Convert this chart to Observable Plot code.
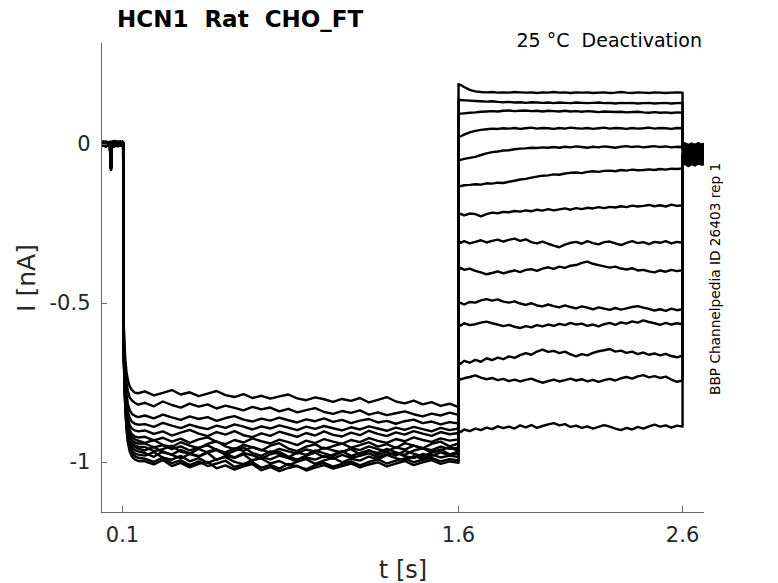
<!DOCTYPE html>
<html><head><meta charset="utf-8">
<script src="https://cdn.jsdelivr.net/npm/d3@7"></script>
<script src="https://cdn.jsdelivr.net/npm/@observablehq/plot@0.6"></script>
<style>html,body{margin:0;padding:0;background:#fff;} svg{display:block;}</style>
</head><body><div id="chart"></div>
<script>
// ---- texts ----
const titleText = "HCN1\u00a0\u00a0Rat\u00a0\u00a0CHO_FT";
const conditionText = "25 \u00b0C\u00a0\u00a0Deactivation";
const sideText = "BBP Channelpedia ID 26403 rep 1";
const xLabel = "t [s]";
const yLabel = "I\u00a0[nA]";

// ---- axes ----
const xDomain = [0.00625, 2.698];
const yDomain = [-1.157, 0.3176];
const xTicks = [0.1, 1.6, 2.6];
const xTickLabels = ["0.1", "1.6", "2.6"];
const yTicks = [-1, -0.5, 0];
const yTickLabels = ["-1", "-0.5", "0"];

// ---- sweeps ----
const sweepIds = [1,2,3,4,5,6,7,8,9,10,11,12,13,14];

// time grids (s)
const tHold = [0.006,0.015,0.025,0.035,0.044,0.047,0.049,0.052,0.06,0.07,0.08,0.09,0.1,0.103];
const tAct = [0.104,0.106,0.109,0.113,0.118,0.124,0.132,0.142,0.155,0.17,
  0.2,0.24,0.28,0.32,0.36,0.4,0.44,0.48,0.52,0.56,0.6,0.64,0.68,0.72,0.76,0.8,0.84,0.88,0.92,0.96,
  1.0,1.04,1.08,1.12,1.16,1.2,1.24,1.28,1.32,1.36,1.4,1.44,1.48,1.52,1.56,1.6];
const tTail = [1.6,1.61,1.625,1.65,1.675,1.7,1.725,1.75,1.775,1.8,1.825,1.85,1.875,1.9,1.925,1.95,1.975,
  2.0,2.025,2.05,2.075,2.1,2.125,2.15,2.175,2.2,2.225,2.25,2.275,2.3,2.325,2.35,2.375,2.4,2.425,2.45,2.475,
  2.5,2.525,2.55,2.575,2.6];
const tEnd = [2.6,2.61,2.625,2.64,2.655,2.67,2.685,2.698];

// holding segment current (nA), one row per sweep
const holdI = [
 [0.004,0.009,0.002,0.007,0.003,-0.066,-0.071,0.006,0.010,0.003,0.008,0.002,0.007,0.004],
 [0.001,-0.003,0.005,0.000,0.004,-0.070,-0.075,0.002,-0.002,0.004,0.000,0.005,0.001,0.003],
 [0.007,0.002,0.008,0.004,0.009,-0.063,-0.068,0.008,0.003,0.009,0.005,0.010,0.004,0.006],
 [-0.002,0.003,-0.004,0.001,-0.003,-0.072,-0.077,-0.001,0.003,-0.003,0.002,-0.004,0.001,-0.001],
 [0.005,0.000,0.006,0.002,0.007,-0.068,-0.073,0.004,0.008,0.001,0.006,0.003,0.008,0.005],
 [0.002,0.006,0.000,0.005,0.001,-0.065,-0.069,0.003,0.007,0.000,0.004,0.006,0.002,0.003],
 [-0.004,0.001,-0.006,-0.001,-0.005,-0.074,-0.078,-0.003,0.001,-0.005,0.000,-0.002,-0.006,-0.003],
 [0.008,0.004,0.010,0.005,0.009,-0.061,-0.066,0.009,0.005,0.011,0.006,0.009,0.004,0.007],
 [0.000,0.004,-0.002,0.003,-0.001,-0.069,-0.074,0.001,0.005,-0.002,0.003,0.000,0.004,0.001],
 [0.003,-0.001,0.004,0.008,0.002,-0.067,-0.072,0.006,0.001,0.005,0.009,0.003,0.006,0.002],
 [-0.006,-0.002,-0.007,-0.003,-0.006,-0.075,-0.080,-0.004,-0.008,-0.003,-0.006,-0.002,-0.005,-0.004],
 [0.006,0.010,0.004,0.008,0.005,-0.064,-0.068,0.007,0.011,0.004,0.009,0.006,0.010,0.007],
 [0.001,0.005,-0.001,0.004,0.000,-0.070,-0.074,0.002,-0.001,0.003,-0.002,0.004,0.000,0.002],
 [0.004,0.000,0.006,0.001,0.005,-0.066,-0.070,0.003,0.007,0.002,0.005,0.001,0.006,0.003]
];

// activation (prepulse) current (nA)
const actI = [
 [-0.50,-0.57,-0.63,-0.68,-0.715,-0.74,-0.76,-0.772,-0.78,-0.782,
  -0.776,-0.789,-0.781,-0.772,-0.786,-0.779,-0.791,-0.783,-0.775,-0.788,-0.794,-0.785,-0.797,-0.790,-0.799,-0.792,-0.786,-0.798,-0.804,-0.795,-0.801,-0.809,-0.800,-0.806,-0.797,-0.811,-0.803,-0.794,-0.808,-0.814,-0.805,-0.817,-0.810,-0.822,-0.815,-0.826],
 [-0.52,-0.59,-0.66,-0.71,-0.75,-0.775,-0.795,-0.805,-0.812,-0.818,
  -0.812,-0.823,-0.808,-0.819,-0.827,-0.815,-0.824,-0.817,-0.830,-0.821,-0.828,-0.836,-0.825,-0.833,-0.827,-0.839,-0.831,-0.842,-0.835,-0.829,-0.841,-0.847,-0.838,-0.844,-0.836,-0.849,-0.842,-0.851,-0.845,-0.839,-0.848,-0.855,-0.846,-0.852,-0.843,-0.850],
 [-0.53,-0.61,-0.68,-0.74,-0.785,-0.815,-0.835,-0.847,-0.853,-0.857,
  -0.852,-0.861,-0.849,-0.858,-0.866,-0.855,-0.863,-0.857,-0.869,-0.860,-0.854,-0.865,-0.871,-0.862,-0.868,-0.859,-0.867,-0.874,-0.864,-0.870,-0.861,-0.872,-0.866,-0.876,-0.868,-0.863,-0.874,-0.869,-0.878,-0.870,-0.865,-0.876,-0.871,-0.880,-0.873,-0.877],
 [-0.54,-0.62,-0.70,-0.76,-0.81,-0.84,-0.86,-0.872,-0.878,-0.881,
  -0.879,-0.888,-0.875,-0.884,-0.892,-0.881,-0.889,-0.895,-0.884,-0.891,-0.880,-0.887,-0.896,-0.886,-0.893,-0.883,-0.890,-0.898,-0.887,-0.894,-0.885,-0.892,-0.899,-0.889,-0.896,-0.886,-0.893,-0.900,-0.890,-0.897,-0.888,-0.895,-0.902,-0.891,-0.898,-0.893],
 [-0.54,-0.63,-0.71,-0.775,-0.825,-0.86,-0.882,-0.893,-0.899,-0.902,
  -0.899,-0.910,-0.902,-0.915,-0.906,-0.897,-0.909,-0.917,-0.904,-0.912,-0.901,-0.914,-0.920,-0.908,-0.916,-0.903,-0.911,-0.919,-0.907,-0.915,-0.902,-0.913,-0.918,-0.906,-0.914,-0.900,-0.910,-0.917,-0.905,-0.912,-0.901,-0.909,-0.916,-0.904,-0.911,-0.907],
 [-0.55,-0.64,-0.72,-0.79,-0.84,-0.875,-0.898,-0.911,-0.918,-0.921,
  -0.919,-0.930,-0.922,-0.934,-0.925,-0.938,-0.927,-0.921,-0.935,-0.942,-0.929,-0.937,-0.924,-0.933,-0.940,-0.928,-0.936,-0.945,-0.931,-0.939,-0.926,-0.934,-0.941,-0.929,-0.936,-0.923,-0.932,-0.938,-0.926,-0.933,-0.921,-0.929,-0.935,-0.924,-0.931,-0.927],
 [-0.55,-0.645,-0.73,-0.80,-0.85,-0.885,-0.908,-0.92,-0.927,-0.931,
  -0.938,-0.929,-0.945,-0.951,-0.936,-0.947,-0.955,-0.941,-0.933,-0.949,-0.958,-0.944,-0.952,-0.962,-0.947,-0.939,-0.956,-0.964,-0.950,-0.943,-0.957,-0.948,-0.940,-0.953,-0.945,-0.936,-0.950,-0.942,-0.954,-0.939,-0.947,-0.955,-0.941,-0.934,-0.949,-0.940],
 [-0.55,-0.65,-0.735,-0.805,-0.857,-0.893,-0.917,-0.93,-0.937,-0.94,
  -0.940,-0.952,-0.945,-0.958,-0.949,-0.962,-0.953,-0.946,-0.960,-0.968,-0.955,-0.963,-0.951,-0.960,-0.969,-0.957,-0.965,-0.972,-0.959,-0.966,-0.953,-0.962,-0.968,-0.955,-0.961,-0.949,-0.958,-0.964,-0.952,-0.959,-0.947,-0.955,-0.961,-0.950,-0.957,-0.953],
 [-0.56,-0.655,-0.74,-0.81,-0.863,-0.90,-0.925,-0.939,-0.946,-0.95,
  -0.951,-0.964,-0.958,-0.947,-0.966,-0.972,-0.957,-0.969,-0.961,-0.975,-0.963,-0.952,-0.970,-0.979,-0.965,-0.973,-0.984,-0.968,-0.976,-0.962,-0.971,-0.980,-0.966,-0.958,-0.974,-0.963,-0.970,-0.957,-0.968,-0.976,-0.962,-0.955,-0.969,-0.961,-0.952,-0.964],
 [-0.56,-0.66,-0.745,-0.815,-0.868,-0.905,-0.93,-0.944,-0.951,-0.956,
  -0.962,-0.951,-0.968,-0.975,-0.960,-0.971,-0.980,-0.966,-0.958,-0.973,-0.984,-0.970,-0.977,-0.988,-0.974,-0.966,-0.981,-0.991,-0.978,-0.969,-0.983,-0.975,-0.964,-0.979,-0.970,-0.961,-0.976,-0.967,-0.978,-0.963,-0.972,-0.981,-0.968,-0.959,-0.974,-0.966],
 [-0.56,-0.66,-0.75,-0.82,-0.875,-0.913,-0.939,-0.953,-0.961,-0.965,
  -0.970,-0.982,-0.965,-0.976,-0.987,-0.973,-0.981,-0.969,-0.992,-0.979,-0.985,-0.974,-0.995,-0.983,-0.990,-0.978,-0.986,-0.997,-0.984,-0.991,-0.980,-0.988,-0.976,-0.985,-0.979,-0.971,-0.983,-0.975,-0.969,-0.980,-0.986,-0.973,-0.979,-0.968,-0.977,-0.972],
 [-0.57,-0.67,-0.755,-0.828,-0.883,-0.922,-0.948,-0.963,-0.971,-0.975,
  -0.978,-0.967,-0.985,-0.991,-0.979,-0.996,-0.986,-1.001,-0.990,-0.983,-0.998,-1.005,-0.992,-0.987,-1.003,-0.995,-1.009,-0.997,-0.989,-1.004,-0.993,-0.985,-0.999,-0.988,-0.994,-0.981,-0.990,-0.976,-0.986,-0.993,-0.980,-0.988,-0.975,-0.984,-0.978,-0.983],
 [-0.57,-0.67,-0.76,-0.834,-0.89,-0.93,-0.957,-0.972,-0.98,-0.985,
  -0.988,-0.998,-0.984,-1.002,-0.993,-1.008,-0.996,-1.011,-1.003,-0.994,-1.014,-1.006,-0.999,-1.016,-1.007,-1.019,-1.004,-1.012,-1.021,-1.008,-1.001,-1.013,-1.004,-0.996,-1.009,-0.998,-0.990,-1.003,-0.994,-0.987,-0.999,-0.991,-0.985,-0.996,-0.989,-0.993],
 [-0.57,-0.675,-0.765,-0.84,-0.897,-0.937,-0.965,-0.981,-0.99,-0.995,
  -0.996,-1.006,-0.992,-1.011,-1.001,-1.015,-1.004,-0.998,-1.018,-1.009,-1.022,-1.012,-1.005,-1.024,-1.014,-1.027,-1.017,-1.010,-1.025,-1.016,-1.008,-1.019,-1.011,-1.003,-1.015,-1.006,-0.999,-1.012,-1.003,-0.995,-1.008,-0.999,-0.992,-1.004,-0.996,-1.001]
];

// tail (test pulse) current (nA)
const tailI = [
 [0.190,0.187,0.181,0.172,0.167,0.165,0.164,0.165,0.163,0.164,0.163,0.165,0.164,0.163,0.164,0.162,0.164,0.163,0.165,0.163,0.164,0.162,0.164,0.163,0.164,0.162,0.163,0.164,0.162,0.163,0.165,0.163,0.162,0.164,0.163,0.162,0.164,0.163,0.162,0.163,0.164,0.163],
 [0.141,0.140,0.139,0.138,0.137,0.136,0.135,0.136,0.134,0.133,0.134,0.132,0.133,0.131,0.133,0.132,0.131,0.132,0.130,0.132,0.131,0.130,0.132,0.131,0.130,0.131,0.132,0.130,0.131,0.129,0.131,0.130,0.131,0.129,0.130,0.131,0.129,0.130,0.131,0.129,0.130,0.131],
 [0.096,0.097,0.098,0.100,0.101,0.103,0.104,0.105,0.104,0.106,0.107,0.105,0.106,0.107,0.105,0.106,0.104,0.106,0.105,0.104,0.106,0.104,0.105,0.103,0.105,0.104,0.102,0.104,0.103,0.102,0.103,0.101,0.102,0.103,0.101,0.100,0.102,0.100,0.101,0.099,0.101,0.100],
 [0.023,0.026,0.031,0.038,0.043,0.046,0.048,0.050,0.049,0.051,0.050,0.052,0.049,0.051,0.053,0.050,0.052,0.051,0.049,0.052,0.050,0.053,0.051,0.050,0.052,0.049,0.051,0.053,0.050,0.052,0.051,0.049,0.052,0.050,0.051,0.053,0.050,0.052,0.051,0.049,0.052,0.051],
 [-0.050,-0.048,-0.045,-0.042,-0.039,-0.033,-0.028,-0.024,-0.022,-0.019,-0.018,-0.015,-0.013,-0.012,-0.010,-0.011,-0.009,-0.010,-0.008,-0.010,-0.007,-0.009,-0.006,-0.008,-0.010,-0.007,-0.009,-0.006,-0.008,-0.010,-0.007,-0.005,-0.008,-0.006,-0.009,-0.007,-0.005,-0.008,-0.006,-0.009,-0.007,-0.008],
 [-0.129,-0.131,-0.128,-0.127,-0.125,-0.126,-0.122,-0.123,-0.120,-0.121,-0.117,-0.114,-0.110,-0.108,-0.104,-0.101,-0.098,-0.097,-0.094,-0.095,-0.091,-0.089,-0.088,-0.090,-0.086,-0.084,-0.086,-0.083,-0.082,-0.084,-0.080,-0.082,-0.079,-0.081,-0.080,-0.078,-0.080,-0.077,-0.079,-0.076,-0.077,-0.075],
 [-0.220,-0.218,-0.223,-0.217,-0.219,-0.226,-0.219,-0.214,-0.216,-0.212,-0.213,-0.209,-0.211,-0.207,-0.210,-0.205,-0.208,-0.203,-0.207,-0.204,-0.201,-0.205,-0.200,-0.203,-0.199,-0.201,-0.197,-0.200,-0.196,-0.198,-0.194,-0.197,-0.192,-0.195,-0.193,-0.190,-0.194,-0.191,-0.195,-0.189,-0.193,-0.191],
 [-0.302,-0.309,-0.304,-0.311,-0.306,-0.301,-0.308,-0.303,-0.299,-0.305,-0.300,-0.296,-0.303,-0.298,-0.307,-0.311,-0.305,-0.312,-0.318,-0.323,-0.315,-0.309,-0.306,-0.312,-0.304,-0.310,-0.314,-0.307,-0.305,-0.311,-0.316,-0.309,-0.304,-0.310,-0.307,-0.313,-0.306,-0.309,-0.304,-0.311,-0.306,-0.309],
 [-0.391,-0.388,-0.394,-0.390,-0.397,-0.402,-0.408,-0.404,-0.399,-0.405,-0.400,-0.396,-0.401,-0.394,-0.392,-0.397,-0.390,-0.386,-0.391,-0.384,-0.388,-0.381,-0.379,-0.372,-0.368,-0.375,-0.379,-0.383,-0.387,-0.384,-0.390,-0.393,-0.389,-0.396,-0.394,-0.399,-0.402,-0.396,-0.400,-0.394,-0.398,-0.395],
 [-0.501,-0.498,-0.503,-0.495,-0.497,-0.490,-0.486,-0.491,-0.487,-0.494,-0.497,-0.493,-0.500,-0.504,-0.499,-0.506,-0.509,-0.503,-0.508,-0.512,-0.506,-0.511,-0.515,-0.509,-0.513,-0.518,-0.512,-0.516,-0.520,-0.514,-0.519,-0.515,-0.511,-0.508,-0.513,-0.517,-0.522,-0.518,-0.523,-0.516,-0.521,-0.518],
 [-0.564,-0.569,-0.562,-0.568,-0.565,-0.560,-0.557,-0.562,-0.566,-0.571,-0.567,-0.573,-0.577,-0.571,-0.575,-0.568,-0.572,-0.566,-0.570,-0.564,-0.568,-0.561,-0.566,-0.563,-0.570,-0.566,-0.572,-0.565,-0.561,-0.567,-0.559,-0.563,-0.556,-0.560,-0.553,-0.558,-0.562,-0.567,-0.561,-0.566,-0.562,-0.565],
 [-0.684,-0.689,-0.680,-0.686,-0.677,-0.683,-0.672,-0.678,-0.670,-0.675,-0.666,-0.671,-0.662,-0.656,-0.661,-0.651,-0.645,-0.652,-0.649,-0.656,-0.651,-0.660,-0.666,-0.659,-0.663,-0.655,-0.650,-0.647,-0.643,-0.651,-0.648,-0.655,-0.651,-0.659,-0.654,-0.661,-0.657,-0.663,-0.658,-0.665,-0.669,-0.664],
 [-0.742,-0.738,-0.735,-0.731,-0.726,-0.733,-0.738,-0.734,-0.741,-0.737,-0.744,-0.739,-0.745,-0.740,-0.736,-0.743,-0.749,-0.744,-0.739,-0.745,-0.741,-0.736,-0.742,-0.738,-0.745,-0.740,-0.746,-0.741,-0.737,-0.742,-0.735,-0.731,-0.736,-0.729,-0.725,-0.732,-0.728,-0.734,-0.730,-0.739,-0.746,-0.742],
 [-0.899,-0.904,-0.896,-0.901,-0.893,-0.898,-0.890,-0.895,-0.886,-0.892,-0.887,-0.893,-0.883,-0.889,-0.882,-0.891,-0.885,-0.880,-0.876,-0.883,-0.879,-0.888,-0.884,-0.891,-0.886,-0.893,-0.888,-0.882,-0.887,-0.893,-0.898,-0.891,-0.896,-0.888,-0.893,-0.886,-0.881,-0.887,-0.883,-0.890,-0.884,-0.887]
];

// return to holding (nA)
const endI = [
 [0.001,0.004,-0.002,0.003,-0.001,0.004,0.000,0.002],
 [-0.005,-0.001,-0.007,-0.002,-0.006,-0.001,-0.004,-0.003],
 [-0.010,-0.006,-0.012,-0.007,-0.011,-0.005,-0.009,-0.008],
 [-0.015,-0.011,-0.017,-0.012,-0.016,-0.010,-0.014,-0.013],
 [-0.020,-0.016,-0.022,-0.017,-0.021,-0.015,-0.019,-0.018],
 [-0.024,-0.020,-0.027,-0.022,-0.025,-0.019,-0.023,-0.022],
 [-0.029,-0.025,-0.032,-0.027,-0.030,-0.024,-0.028,-0.027],
 [-0.034,-0.030,-0.037,-0.031,-0.035,-0.029,-0.033,-0.032],
 [-0.039,-0.035,-0.042,-0.036,-0.040,-0.034,-0.038,-0.037],
 [-0.044,-0.040,-0.047,-0.041,-0.045,-0.039,-0.043,-0.042],
 [-0.049,-0.045,-0.052,-0.046,-0.050,-0.044,-0.048,-0.047],
 [-0.054,-0.050,-0.057,-0.051,-0.055,-0.049,-0.053,-0.052],
 [-0.059,-0.055,-0.062,-0.056,-0.060,-0.054,-0.058,-0.057],
 [-0.064,-0.060,-0.068,-0.061,-0.066,-0.059,-0.063,-0.062]
];

// ---- build table ----
const rows = [];
sweepIds.forEach((s, k) => {
  const segs = [[tHold, holdI[k]], [tAct, actI[k]], [tTail, tailI[k]], [tEnd, endI[k]]];
  for (const [ts, vs] of segs) {
    const n = Math.min(ts.length, vs.length);
    for (let j = 0; j < n; j++) rows.push({sweep: s, t: ts[j], i: vs[j]});
  }
});

const axisColor = "#262626";
const fontFam = "DejaVu Sans, sans-serif";

const svg = Plot.plot({
  width: 778, height: 583,
  marginLeft: 101, marginRight: 74, marginTop: 43, marginBottom: 71,
  style: {fontFamily: fontFam, background: "#fff", color: axisColor},
  x: {domain: xDomain},
  y: {domain: yDomain},
  marks: [
    Plot.line(rows, {x: "t", y: "i", z: "sweep", stroke: "#000", strokeWidth: 2.4, strokeLinejoin: "round", clip: true}),
    Plot.ruleX([xDomain[0]], {stroke: "#666", strokeWidth: 1}),
    Plot.ruleY([yDomain[0]], {stroke: "#666", strokeWidth: 1}),
    Plot.axisX({ticks: xTicks, tickSize: -6, fill: "none", stroke: "#666", label: null}),
    Plot.axisY({ticks: yTicks, tickSize: -6, fill: "none", stroke: "#666", label: null}),
    Plot.axisX({ticks: xTicks, tickSize: 0, tickPadding: 15, fontSize: 21, fill: axisColor,
      tickFormat: d => xTickLabels[xTicks.indexOf(d)], label: null}),
    Plot.axisY({ticks: yTicks, tickSize: 0, tickPadding: 11, fontSize: 21, fill: axisColor,
      tickFormat: d => yTickLabels[yTicks.indexOf(d)], label: null})
  ]
});

const g = d3.select(svg);
g.append("text").attr("x", 117).attr("y", 27).attr("text-anchor", "start")
  .attr("font-family", fontFam).attr("font-size", 23).attr("font-weight", "bold")
  .attr("fill", "#000").text(titleText);
g.append("text").attr("x", 702).attr("y", 47).attr("text-anchor", "end")
  .attr("font-family", fontFam).attr("font-size", 19).attr("fill", "#000").text(conditionText);
g.append("text").attr("transform", "translate(720,395) rotate(-90)").attr("text-anchor", "start")
  .attr("font-family", fontFam).attr("font-size", 13.7).attr("fill", "#000").text(sideText);
g.append("text").attr("x", 403).attr("y", 578).attr("text-anchor", "middle")
  .attr("font-family", fontFam).attr("font-size", 24).attr("fill", axisColor).text(xLabel);
g.append("text").attr("transform", "translate(35,278) rotate(-90)").attr("text-anchor", "middle")
  .attr("font-family", fontFam).attr("font-size", 25).attr("fill", axisColor).text(yLabel);

document.getElementById("chart").appendChild(svg);
</script>
</body></html>
